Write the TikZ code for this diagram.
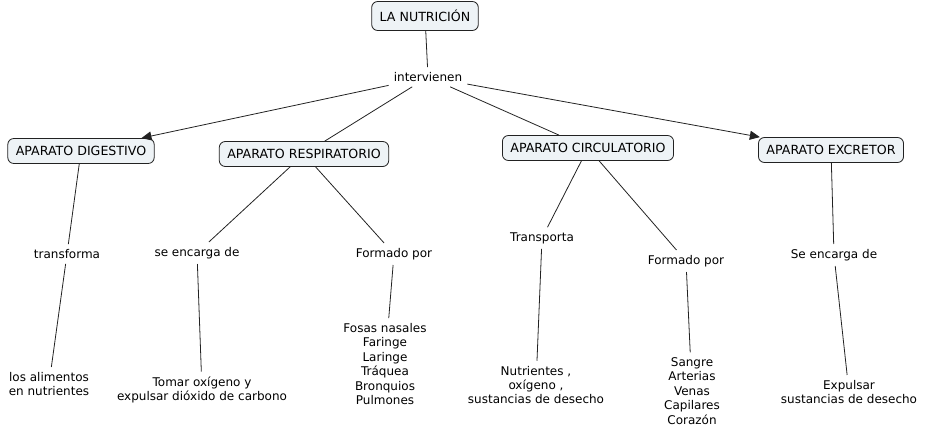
\documentclass[tikz,border=0pt]{standalone}
\usepackage{fontspec}
\setmainfont{DejaVu Sans}
\usetikzlibrary{arrows.meta}
\definecolor{boxfill}{HTML}{EEF3F6}
\definecolor{edgecol}{HTML}{222222}
\tikzset{
  concept/.style={draw=edgecol, fill=boxfill, rounded corners=6pt, line width=0.8pt,
    minimum height=25pt, inner xsep=8pt, inner ysep=4pt, font=\fontsize{12.6}{14.4}\selectfont},
  linkphrase/.style={align=center, inner sep=5pt, font=\fontsize{12}{14.4}\selectfont},
  conn/.style={draw=edgecol, line width=0.8pt},
  arr/.style={conn, -{Triangle[length=10pt,width=9pt]}}
}
\begin{document}
\begin{tikzpicture}[x=1pt,y=-1pt]
\useasboundingbox (0,0) rectangle (927,436);
% concepts
\node[concept, minimum height=29pt] (nut) at (425,16) {LA NUTRICIÓN};
\node[concept] (dig) at (81,151) {APARATO DIGESTIVO};
\node[concept] (res) at (304,154) {APARATO RESPIRATORIO};
\node[concept] (cir) at (588,148) {APARATO CIRCULATORIO};
\node[concept] (exc) at (831,150) {APARATO EXCRETOR};
% linking phrases
\node[linkphrase] (int) at (428,77) {intervienen};
\node[linkphrase] (tra) at (67,254) {transforma};
\node[linkphrase] (sec) at (197,253) {se encarga de};
\node[linkphrase] (fo1) at (394,254) {Formado por};
\node[linkphrase] (tpt) at (542,238) {Transporta};
\node[linkphrase] (fo2) at (686,261) {Formado por};
\node[linkphrase] (sec2) at (834,255) {Se encarga de};
% leaf concepts
\node[linkphrase] (ali) at (49,384) {los alimentos\\en nutrientes};
\node[linkphrase] (tom) at (202,390) {Tomar oxígeno y\\expulsar dióxido de carbono};
\node[linkphrase] (fos) at (385,364) {Fosas nasales\\Faringe\\Laringe\\Tráquea\\Bronquios\\Pulmones};
\node[linkphrase] (nutr) at (536,385) {Nutrientes ,\\oxígeno ,\\sustancias de desecho};
\node[linkphrase] (san) at (692,391) {Sangre\\Arterias\\Venas\\Capilares\\Corazón};
\node[linkphrase] (exp) at (849,392) {Expulsar\\sustancias de desecho};
% connectors
\draw[conn] (nut) -- (int);
\draw[arr] (int) -- (dig);
\draw[conn] (int) -- (res);
\draw[conn] (int) -- (cir);
\draw[arr] (int) -- (exc);
\draw[conn] (dig) -- (tra);
\draw[conn] (tra) -- (ali);
\draw[conn] (res) -- (sec);
\draw[conn] (sec) -- (tom);
\draw[conn] (res) -- (fo1);
\draw[conn] (fo1) -- (fos);
\draw[conn] (cir) -- (tpt);
\draw[conn] (tpt) -- (nutr);
\draw[conn] (cir) -- (fo2);
\draw[conn] (fo2) -- (san);
\draw[conn] (exc) -- (sec2);
\draw[conn] (sec2) -- (exp);
\end{tikzpicture}
\end{document}
